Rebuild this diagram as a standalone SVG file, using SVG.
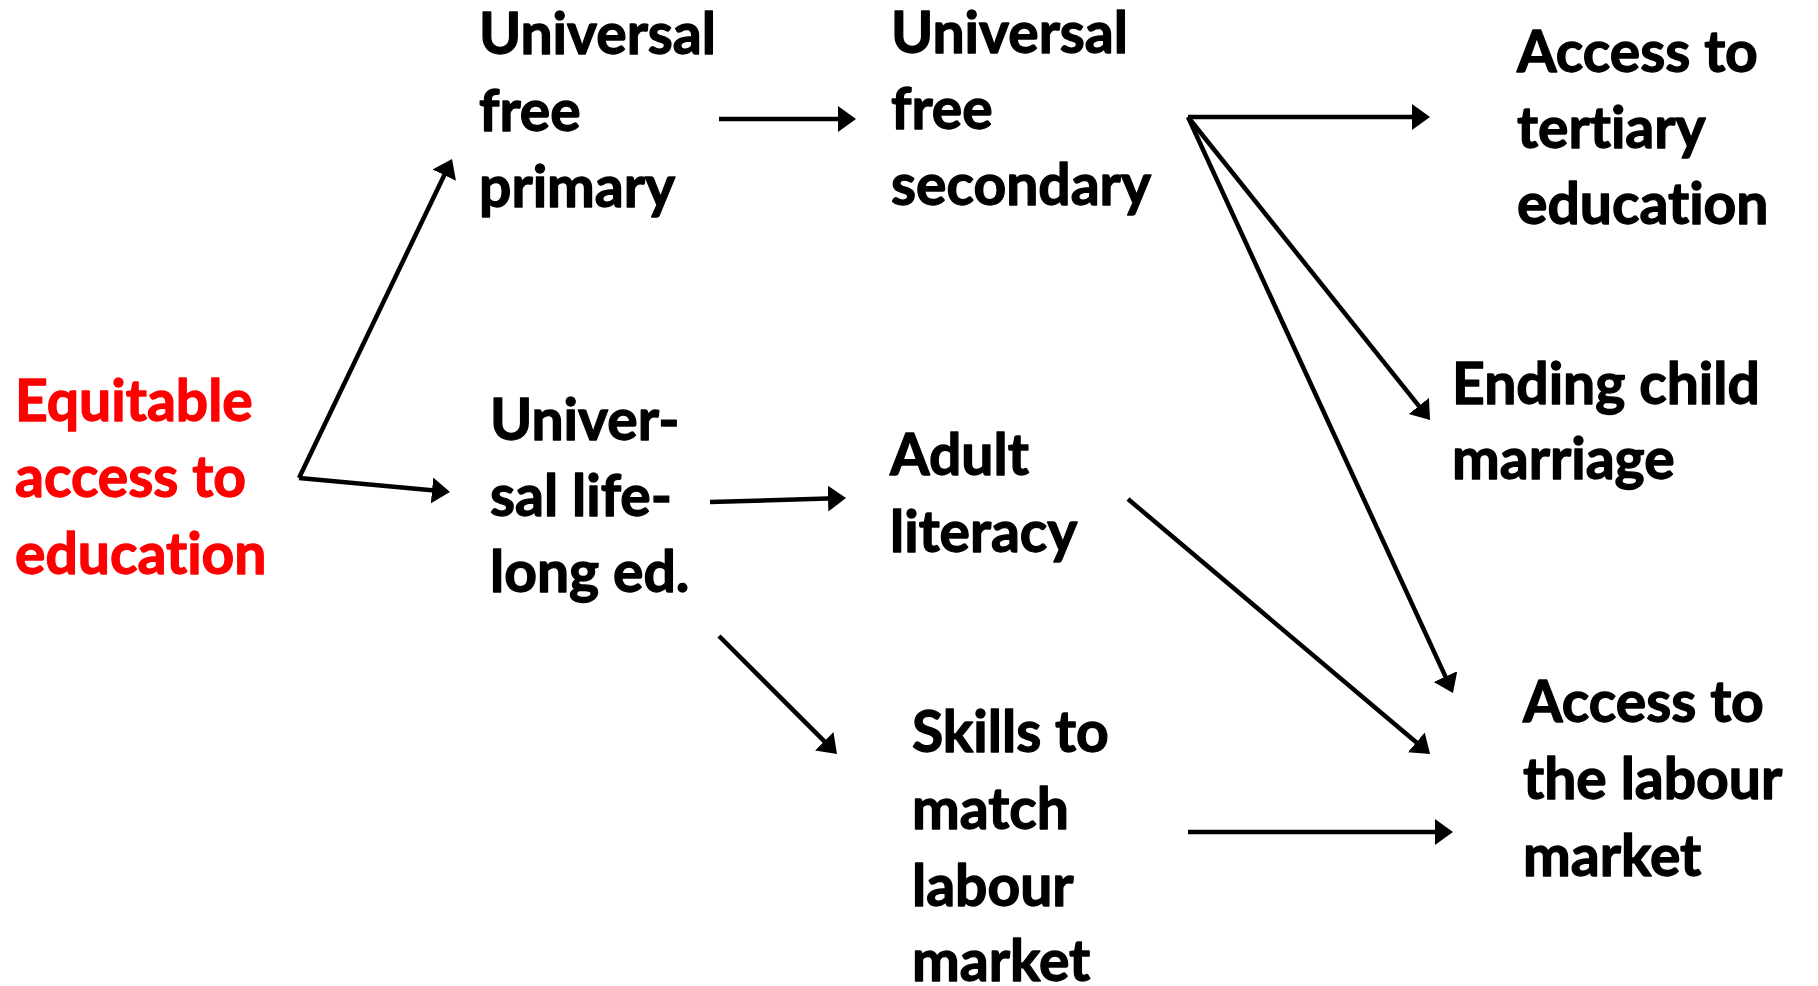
<svg xmlns="http://www.w3.org/2000/svg" width="1818" height="986" viewBox="0 0 1818 986">
  <style>
    .lbl { font-family: Lato, "Open Sans", "Liberation Sans", sans-serif; font-weight: 700; font-size: 57px; fill: #000000; stroke: #000000; stroke-width: 1.3; stroke-linejoin: round; font-variant-ligatures: none; }
    .root { fill: #FF0000; stroke: #FF0000; }
    .edge { stroke: #000000; stroke-width: 4.5; fill: none; marker-end: url(#head); }
  </style>
  <defs>
    <marker id="head" markerUnits="userSpaceOnUse" markerWidth="20" markerHeight="28" refX="8" refY="13" orient="auto">
      <path d="M0,0 L18,13 L0,26 Z" fill="#000000"/>
    </marker>
  </defs>
  <rect width="1818" height="986" fill="#FFFFFF"/>

  <g id="connectors">
    <line class="edge" x1="299" y1="478" x2="447.7" y2="168"/>
    <line class="edge" x1="299" y1="478" x2="440" y2="491.1"/>
    <line class="edge" x1="719" y1="119" x2="846" y2="119"/>
    <line class="edge" x1="1188" y1="117" x2="1420" y2="117"/>
    <line class="edge" x1="1188" y1="117" x2="1423.8" y2="412.2"/>
    <line class="edge" x1="1188" y1="117" x2="1448.8" y2="683.9"/>
    <line class="edge" x1="710" y1="502" x2="836" y2="498.3"/>
    <line class="edge" x1="719" y1="636" x2="829.9" y2="746.9"/>
    <line class="edge" x1="1128" y1="499" x2="1422.4" y2="747.5"/>
    <line class="edge" x1="1188" y1="832" x2="1443" y2="832"/>
  </g>

  <g id="equitable-access">
    <text class="lbl root"><tspan x="15" y="421">Equitable</tspan><tspan x="15" y="497">access to</tspan><tspan x="15" y="574">education</tspan></text>
  </g>
  <g id="free-primary">
    <text class="lbl"><tspan x="479" y="54">Universal</tspan><tspan x="479" y="131">free</tspan><tspan x="479" y="207">primary</tspan></text>
  </g>
  <g id="free-secondary">
    <text class="lbl"><tspan x="891" y="53">Universal</tspan><tspan x="891" y="129">free</tspan><tspan x="891" y="205">secondary</tspan></text>
  </g>
  <g id="tertiary-access">
    <text class="lbl"><tspan x="1517" y="72">Access to</tspan><tspan x="1517" y="148">tertiary</tspan><tspan x="1517" y="224">education</tspan></text>
  </g>
  <g id="child-marriage">
    <text class="lbl"><tspan x="1452" y="404">Ending child</tspan><tspan x="1452" y="479">marriage</tspan></text>
  </g>
  <g id="lifelong-ed">
    <text class="lbl"><tspan x="490" y="440">Univer-</tspan><tspan x="490" y="516">sal life-</tspan><tspan x="490" y="592">long ed.</tspan></text>
  </g>
  <g id="adult-literacy">
    <text class="lbl"><tspan x="890" y="475">Adult</tspan><tspan x="890" y="552">literacy</tspan></text>
  </g>
  <g id="skills-match">
    <text class="lbl"><tspan x="912" y="752">Skills to</tspan><tspan x="912" y="829">match</tspan><tspan x="912" y="906">labour</tspan><tspan x="912" y="981">market</tspan></text>
  </g>
  <g id="labour-access">
    <text class="lbl"><tspan x="1523" y="722">Access to</tspan><tspan x="1523" y="799">the labour</tspan><tspan x="1523" y="876">market</tspan></text>
  </g>
</svg>
